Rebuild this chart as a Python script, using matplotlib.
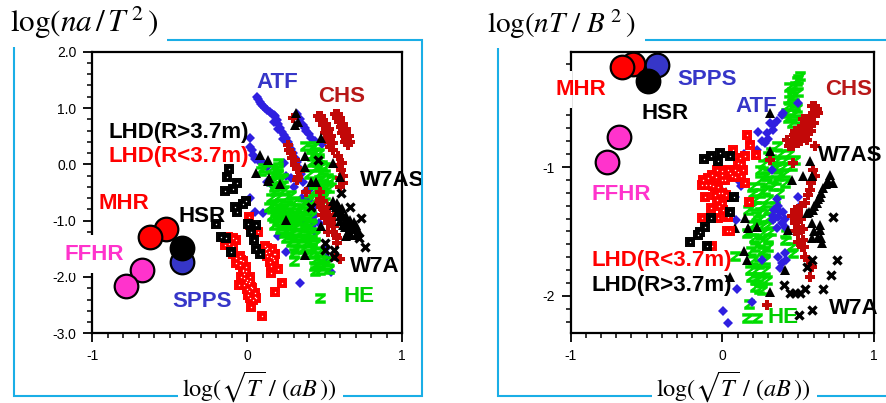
import matplotlib
matplotlib.use("Agg")
import matplotlib.pyplot as plt
from matplotlib.lines import Line2D
from matplotlib.patches import Rectangle
from matplotlib.path import Path
from matplotlib.ticker import MultipleLocator, FormatStrFormatter

plt.rcParams['font.family'] = ['Liberation Sans', 'DejaVu Sans']
plt.rcParams['mathtext.fontset'] = 'stix'

# ---------- left panel: log(na/T^2) ----------
L_ATF = [(.06,1.20),(.08,1.11),(.10,1.03),(.13,.96),(.16,.9),(.18,.85),(.2,.72),(.21,.64),(.24,.52),(.26,.4),(.28,.28),(.31,.12),(.33,-.04),(.36,-.31),(.40,-.63),(.42,-.99),
         (.32,.9),(.36,.7),(.38,.6),(.41,.46),(.48,.37),(.015,.46),(.015,.31),(.04,.17),(.07,.08),(.13,-.04),(.13,-.31),(.015,-.6),(.05,-.84),(.10,-.86),(.2,-1.28),(.25,-1.55),
         (.34,-2.1),(.54,-1.92),(.51,-1.64),(.3,-.4),(.35,-.6),(.41,-.85),(.42,-1.1),(.25,-.2),(.24,.02),(.28,-.25),(.44,-1.2),(.5,-1.5),(.36,-1.0),(.4,-.45),
         (.07,1.16),(.09,1.07),(.115,1.0),(.145,.93),(.17,.88),(.19,.78),(.225,.58),(.25,.46),(.27,.34),(.295,.2),(.32,.04),(.345,-.17),(.38,-.47),(.34,.8),(.37,.65),(.395,.53),(.44,.42),
         (.17,.75),(.2,.62),(.23,.45),(.03,.25),(.05,.1),(.1,.02),(.15,-.35),(.44,-.9),(.46,-1.05),(.43,-.75)]
L_CHS = [(.456,.85),(.47,.78),(.49,.7),(.505,.62),(.52,.55),(.525,.47),(.53,.4),(.55,.25),(.565,.9),(.58,.82),(.59,.75),(.605,.67),(.62,.6),(.63,.52),(.64,.45),(.65,.35),
         (.295,.82),(.262,.34),(.28,.2),(.305,.08),(.32,-.08),(.33,-.22),(.585,.14),(.605,-.1),(.617,-.34),(.59,-.02),(.6,-.25),(.38,-.5),(.46,-.68),(.49,-.8),(.5,-.95),(.52,-1.05),(.55,-1.2),
         (.58,-1.3),(.58,-1.4),(.6,-1.68),(.57,-1.62),(.478,-.75),(.51,-.85),(.54,-1.0),(.56,-1.1),(.47,-.62),
         (.475,.85),(.49,.78),(.51,.72),(.53,.62),(.54,.5),(.55,.38),(.5,.55),(.51,.45),(.535,.3),(.585,.9),(.6,.82),(.615,.72),(.635,.62),(.655,.5),(.66,.4),(.61,.55),(.63,.4),
         (.27,.25),(.29,.12),(.31,-.02),(.34,-.12),(.32,-.28),(.61,.02),(.62,-.2),(.6,-.4),(.49,-.65),(.52,-.75),(.53,-.9),(.48,-.9),(.56,-.9),(.57,-1.25),(.52,-1.2),(.47,-.5)]
L_HE = [(.37,.33),(.43,.33),(.46,.2),(.42,.15),(.45,.05),(.5,-.05),(.47,-.15),(.52,-.25),(.49,-.35),(.54,-.28),(.5,-.55),(.45,-.6),(.49,-.6),(.4,-.63),(.44,-.35),
        (.1,-.07),(.09,-.12),(.2,.02),(.15,-.08),(.20,-.05),(.19,-.15),(.16,-.3),(.2,-.3),(.23,-.25),(.18,-.48),(.24,-.45),(.28,-.55),(.17,-.7),(.21,-.68),(.26,-.72),(.31,-.65),(.35,-.7),
        (.18,-.85),(.22,-.85),(.27,-.85),(.32,-.85),(.37,-.82),(.19,-1.0),(.24,-1.0),(.29,-1.0),(.33,-1.0),(.38,-1.0),(.21,-1.15),(.26,-1.15),(.31,-1.12),(.36,-1.12),(.4,-1.2),
        (.25,-1.3),(.3,-1.3),(.35,-1.3),(.42,-1.35),(.31,-1.5),(.36,-1.5),(.42,-1.5),(.46,-1.55),(.3,-1.72),(.44,-1.7),(.48,-1.7),(.52,-1.72),(.44,-1.9),(.47,-1.88),(.53,-1.85),(.47,-2.38),
        (.15,-.2),(.2,-.18),(.17,-.4),(.22,-.38),(.2,-.58),(.25,-.6),(.15,-.6),(.14,-.75),(.19,-.78),(.24,-.78),(.29,-.78),(.34,-.78),(.39,-.75),(.16,-.92),(.21,-.92),(.26,-.92),(.31,-.92),(.36,-.92),(.41,-.92),
        (.17,-1.07),(.22,-1.08),(.27,-1.08),(.32,-1.07),(.37,-1.05),(.42,-1.08),(.24,-1.22),(.29,-1.22),(.34,-1.22),(.39,-1.25),(.44,-1.25),(.28,-1.38),(.33,-1.4),(.38,-1.4),(.44,-1.42),(.3,-1.58),(.37,-1.6),(.41,-1.6),(.47,-1.62),
        (.43,-1.8),(.48,-1.8),(.5,-1.78),(.4,-.18),(.44,.22),(.41,.28),(.46,.12),(.48,-.02),(.45,-.05),(.42,.05),(.49,-.22),(.46,-.28),(.51,-.4),(.47,-.45),(.53,-.42),(.43,-.48)]
L_W7AS = [(.55,-.65),(.57,-.75),(.6,-.85),(.62,-.9),(.63,-1.0),(.66,-1.05),(.68,-1.1),(.7,-1.15),(.72,-1.2),(.65,-1.2),(.6,-1.0),(.58,-.85),(.67,-1.25),(.59,-.75),(.62,-1.08),(.7,-1.08),
          (.56,-.72),(.58,-.68),(.61,-.78),(.64,-.92),(.66,-.98),(.69,-1.02),(.6,-.92),(.63,-1.12),(.66,-1.15),(.7,-1.25),
          (.316,.905),(.305,.7),(.33,.75),(.08,.17),(.058,-.16),(.133,.077),(.133,-.3),(.37,.14),(.37,-.04),(.413,-.31),(.445,-.31),(.596,-.22),(.553,.02),(.477,.46),(.25,-.99),(.477,-1.1),(.639,-1.28),(.37,-1.61),(.21,-.35),(.14,-.25)]
L_W7A = [(.602,-.503),(.66,-.751),(.413,-.751),(.735,-.959),(.718,-1.314),(.757,-1.462),(.499,-1.402),(.503,-1.521),(.559,-1.521),(.559,-1.639),(.456,.077)]
L_GT = [(-.116,-.083),(-.129,-.219),(-.065,-.337),(-.09,-.444),(-.142,-.473),(-.011,-.651),(-.028,-.704),(-.082,-.751),(-.065,-.84),(-.2,-1.065),(.004,-1.059),(.058,-1.077),(.026,-1.195),(.041,-1.343),(-.168,-1.296),(-.135,-1.314),(-.103,-1.55),(.058,-1.509),(.08,-1.592)]
L_LT = [(-.125,-1.284),(-.071,-1.343),(-.146,-1.432),(-.103,-1.491),(-.071,-1.669),(-.039,-1.698),(-.006,-1.817),(-.056,-2.142),(.015,-1.994),(.026,-2.172),(.047,-2.29),(.004,-2.32),(.058,-2.367),(.026,-2.538),(.095,-2.686),(-.028,-1.876),(.009,-2.112),(-.006,-2.083),(-.049,-1.787),
        (.011,-.941),(.015,-1.077),(.069,-1.195),(.112,-1.45),(.123,-1.58),(.176,-1.592),(.144,-1.728),(.198,-1.864),(.155,-1.935),(.224,-2.101),(.181,-2.26),(.165,-1.66),(.13,-1.48),(-.02,-1.95),(-.04,-2.0),(-.09,-1.6),
        (-.09,-1.3),(-.12,-1.42),(-.09,-1.45),(-.05,-1.7),(-.03,-1.72),(-.03,-1.9),(-.01,-1.9),(.0,-2.05),(-.02,-2.02),(.02,-2.08),(.03,-2.2),(.01,-2.25),(.04,-2.4),(.02,-2.38),(.05,-2.35),(-.02,-2.15),(.0,-2.22),(-.05,-1.62),(-.07,-1.75),
        (.14,-1.55),(.16,-1.5),(.12,-1.5),(.15,-1.65),(.17,-1.7),(.13,-1.62),(.15,-1.8),(.17,-1.6)]
L_MHR = [(-.523,-1.154),(-.63,-1.296)]
L_SPPS = [(-.419,-1.728)]
L_HSR = [(-.419,-1.49)]
L_FFHR = [(-.682,-1.876),(-.785,-2.16)]

# ---------- right panel: log(nT/B^2) ----------
R_ATF = [(.401,-.579),(.335,-.67),(.291,-.735),(.232,-.73),(.28,-.813),(.225,-.865),(.335,-.709),(.313,-.657),(.181,-.813),(.104,-1.099),(.083,-1.229),(.087,-1.41),(.093,-1.943),(.005,-2.117),(.038,-2.21),
         (.368,-1.384),(.368,-1.306),(.39,-1.436),(.335,-1.41),(.412,-1.462),(.412,-1.67),(.39,-1.748),(.368,-1.696),(.258,-1.722),(.51,-1.306),(.5,-1.229),(.324,-1.02),(.192,-2.047),(.5,-.5),(.39,-.6),(.13,-1.0),(.14,-.9),(.36,-1.25),(.4,-1.35),(.34,-1.33),
         (.3,-.78),(.36,-.64),(.26,-.8),(.33,-1.38),(.38,-1.35),(.41,-1.4),(.36,-1.47),(.42,-1.72),(.38,-1.78),(.12,-1.15)]
R_CHS = [(.609,-.527),(.576,-.605),(.521,-.683),(.565,-.735),(.456,-.787),(.5,-.813),(.609,-.839),(.423,-.787),(.62,-.55),(.631,-.579),(.59,-.53),(.543,-.683),(.5,-.735),(.467,-.839),(.554,-.787),(.532,-.631),(.6,-.6),(.48,-.72),
         (.598,-1.021),(.609,-1.073),(.576,-1.177),(.543,-1.28),(.5,-1.358),(.478,-1.436),(.5,-1.514),(.521,-1.618),(.543,-1.696),(.587,-1.774),(.576,-1.852),(.291,-2.073),(.5,-1.462),(.478,-1.332),(.532,-1.566),(.313,-.943),(.467,-.969),
         (.6,-.66),(.57,-.68),(.53,-.75),(.47,-.75),(.44,-.84),(.52,-.8),(.58,-.72),(.56,-1.22),(.52,-1.3),(.46,-1.38),(.52,-1.4),(.48,-1.5),(.53,-1.48),(.5,-1.58),(.54,-1.62),(.56,-1.72),(.58,-1.12),(.49,-1.42)]
R_HE = [(.51,-.294),(.478,-.371),(.456,-.449),(.434,-.527),(.478,-.579),(.456,-.657),(.357,-.839),(.302,-.917),(.412,-.943),(.478,-.943),(.456,-.995),(.368,-.995),(.28,-1.073),(.368,-1.073),(.412,-1.047),(.192,-1.151),(.28,-1.177),(.17,-1.33),(.258,-1.306),(.346,-1.306),(.236,-1.41),(.313,-1.384),(.159,-1.514),(.258,-1.514),(.412,-1.566),(.467,-1.67),(.214,-1.618),(.302,-1.618),(.28,-1.722),(.083,-1.691),(.181,-1.8),(.236,-1.852),(.291,-1.878),(.214,-1.93),(.258,-1.956),(.175,-2.06),(.159,-2.169),(.225,-2.169),
        (.25,-1.2),(.3,-1.25),(.22,-1.25),(.25,-1.35),(.3,-1.45),(.3,-1.55),(.2,-1.45),(.21,-1.55),(.26,-1.65),(.24,-1.75),(.28,-1.8),(.22,-1.8),(.2,-1.72),(.33,-1.15),(.37,-1.2),(.3,-1.05),(.25,-1.1),(.33,-1.0),(.4,-1.0),(.44,-.9),(.38,-.9),(.32,-.88),(.27,-.98),(.49,-.33),(.44,-.38),(.47,-.5),(.43,-.62),(.49,-.63),
        (.5,-.32),(.46,-.42),(.5,-.42),(.44,-.48),(.49,-.54),(.42,-.58),(.2,-1.2),(.25,-1.02),(.2,-1.3),(.29,-1.12),(.35,-1.1),(.3,-1.33),(.22,-1.38),(.27,-1.45),(.19,-1.5),(.25,-1.58),(.32,-1.5),(.28,-1.65),(.19,-1.65),(.26,-1.88),(.22,-1.88),(.19,-1.85),(.24,-1.95),(.42,-1.52),(.45,-1.62),(.41,-1.12),(.35,-.95)]
R_W7AS = [(.708,-1.06),(.697,-1.11),(.664,-1.164),(.642,-1.229),(.62,-1.28),(.598,-1.332),(.554,-1.358),(.642,-1.488),(.631,-1.54),(.587,-1.553),(.653,-1.592),(.73,-1.125),(.576,-.956),(.313,-.584),(.313,-.878),(.532,-1.073),(.587,-1.073),(.148,-1.397),(.083,-1.475),(.17,-1.475),(.225,-1.462),(.143,-1.649),(.159,-1.722),(.412,-1.795),(.05,-1.857),(.313,-1.969),(.434,-1.488),(.456,-1.099),(.587,-1.436),(-.07,-1.11),(-.005,-1.177),(.05,-1.229),
          (.68,-1.13),(.65,-1.2),(.63,-1.25),(.6,-1.3),(.57,-1.35),(.64,-1.45),(.6,-1.5),(.65,-1.55),(-.04,-1.14),(-.03,-1.17),(.02,-1.19)]
R_W7A = [(.73,-1.384),(.752,-1.722),(.713,-1.834),(.664,-1.943),(.587,-1.722),(.554,-1.774),(.543,-1.943),(.407,-1.912),(.445,-1.974),(.478,-1.974),(.51,-1.974),(.587,-2.112),(.505,-2.145)]
R_LT = [(.159,-.753),(.181,-.826),(.219,-.904),(.071,-.865),(.148,-.917),(.115,-.93),(-.038,-1.021),(-.093,-1.086),(-.137,-1.138),(-.115,-1.229),(-.071,-1.06),(-.005,-1.034),(.038,-1.021),(.083,-1.021),(.137,-1.021),(.148,-1.125),(.016,-1.099),(-.027,-1.151),(-.038,-1.255),(-.005,-1.28),(-.077,-1.319),(-.132,-1.392),(-.027,-1.397),(.027,-1.494),(.05,-1.494),(-.07,-1.613),(.177,-1.273),(.038,-1.384),(.005,-1.332),(.104,-.969),(.06,-1.073),(-.06,-1.15),(.0,-1.2),
        (-.04,-1.08),(.0,-1.1),(.05,-1.05),(.1,-1.04),(.12,-.98),(-.02,-1.2),(.02,-1.22),(-.05,-1.22),(-.02,-1.3),(-.13,-1.1),(-.11,-1.14),(.08,-1.08),(.12,-1.07),(.0,-1.06),(-.08,-1.14)]
R_GT = [(-.12,-.938),(-.078,-.917),(-.016,-.891),(-.027,-.956),(.049,-.917),(.077,-1.229),(.049,-1.345),(-.078,-1.397),(-.115,-1.462),(-.148,-1.501),(-.214,-1.579),(-.104,-1.61),(-.159,-1.527)]
R_MHR = [(-.589,-.203),(-.664,-.221)]
R_SPPS = [(-.433,-.208)]
R_HSR = [(-.488,-.332)]
R_FFHR = [(-.679,-.766),(-.758,-.961)]

C_BLUE, C_DRED, C_GREEN, C_RED = '#2f1fe0', '#c20808', '#00dd00', '#ff0000'
C_LBLUE, C_MAG, C_LGREEN = '#3636c8', '#ff33cc', '#00cf00'
CYAN = '#1aaee6'

W, H = 887, 403
fig = plt.figure(figsize=(W/100, H/100), dpi=100)
fig.patch.set_facecolor('white')

# solid "z" glyph used for the HE points
Z_MARK = Path([(-1, 1), (1, 1), (1, .45), (-.1, -.35), (1, -.35), (1, -1), (-1, -1), (-1, -.45), (.1, .35), (-1, .35), (-1, 1)], closed=True)

def xy(points):
    return [p[0] for p in points], [p[1] for p in points]

def scatter(ax, pts, marker, color, ms, mew=0, z=3):
    x, y = xy(pts)
    ax.plot(x, y, ls='none', marker=marker, color=color, ms=ms, mew=mew, mfc=color, mec=color, zorder=z)

def squares(ax, pts, color, z):
    x, y = xy(pts)
    ax.plot(x, y, ls='none', marker='s', ms=6.4, mew=1.4, mfc='none', mec=color, zorder=z)
    ax.plot(x, y, ls='none', marker='s', ms=4.0, mew=0, color=color, zorder=z)
    ax.plot(x, y, ls='none', marker='s', ms=0.9, mew=0, color='white', zorder=z)

def circles(ax, pts, color, z, ms=17):
    x, y = xy(pts)
    for i in range(len(x)):
        ax.plot(x[i], y[i], ls='none', marker='o', ms=ms, mew=1.6, mfc=color, mec='black',
                zorder=z + i * 0.01)

def frame_axes(px_l, px_r, px_t, px_b, ylim, yfmt, yminor):
    ax = fig.add_axes([px_l/W, 1-px_b/H, (px_r-px_l)/W, (px_b-px_t)/H])
    ax.set_xlim(-1, 1)
    ax.set_ylim(*ylim)
    ax.xaxis.set_major_locator(MultipleLocator(1))
    ax.xaxis.set_minor_locator(MultipleLocator(0.1))
    ax.yaxis.set_major_locator(MultipleLocator(1))
    ax.yaxis.set_minor_locator(MultipleLocator(yminor))
    ax.xaxis.set_major_formatter(FormatStrFormatter('%d'))
    ax.yaxis.set_major_formatter(FormatStrFormatter(yfmt))
    ax.tick_params(axis='both', which='major', direction='out', length=6.8, width=1.3, labelsize=10, pad=4.5)
    ax.tick_params(axis='both', which='minor', direction='out', length=3.6, width=1.1)
    for side in ax.spines.values():
        side.set_linewidth(1.6)
    return ax

def label(ax, x, y, s, color):
    ax.text(x - 0.012, y, s, color=color, fontsize=16, fontweight='bold', va='center', ha='left', zorder=12, clip_on=False)

def series(ax, atf, chs, he, w7as, w7a, lt, gt, mhr, spps, hsr, ffhr, atf_z):
    scatter(ax, atf, 'D', C_BLUE, 5.4, z=atf_z)
    scatter(ax, he, Z_MARK, C_GREEN, 7.6, z=4)
    scatter(ax, chs, 'P', C_DRED, 7.6, z=5)
    scatter(ax, w7as, '^', 'black', 6.6, z=6)
    scatter(ax, w7a, 'x', 'black', 6, mew=2.4, z=7)
    squares(ax, lt, C_RED, 7)
    squares(ax, gt, 'black', 8)
    circles(ax, mhr, C_RED, 9)
    circles(ax, spps, C_LBLUE, 9.2)
    circles(ax, hsr, 'black', 9.4)
    circles(ax, ffhr, C_MAG, 9.6)

# ----- left -----
a = frame_axes(92.3, 402.3, 51.7, 333.3, (-3, 2), '%.1f', 0.2)
series(a, L_ATF, L_CHS, L_HE, L_W7AS, L_W7A, L_LT, L_GT, L_MHR, L_SPPS, L_HSR, L_FFHR, 3)
a.add_patch(Rectangle((-1.16, -1.93), 0.17, 0.67, facecolor='white', edgecolor='none', zorder=11, clip_on=False))
label(a, .07, 1.456, 'ATF', C_LBLUE)
label(a, .467, 1.21, 'CHS', '#b81818')
label(a, -.884, .56, 'LHD(R>3.7m)', 'black')
label(a, -.884, .136, 'LHD(R<3.7m)', C_RED)
label(a, .742, -.284, 'W7AS', 'black')
label(a, -.948, -.704, 'MHR', C_RED)
label(a, -.432, -.93, 'HSR', 'black')
label(a, -1.168, -1.6, 'FFHR', C_MAG)
label(a, .675, -1.817, 'W7A', 'black')
label(a, .634, -2.34, 'HE', C_LGREEN)
label(a, -.473, -2.44, 'SPPS', C_LBLUE)

# ----- right -----
b = frame_axes(570.7, 874.3, 51.7, 333.3, (-2.29, -0.105), '%d', 0.1)
series(b, R_ATF, R_CHS, R_HE, R_W7AS, R_W7A, R_LT, R_GT, R_MHR, R_SPPS, R_HSR, R_FFHR, 4.5)
b.add_patch(Rectangle((-1.12, -.545), 0.13, 0.29, facecolor='white', edgecolor='none', zorder=11, clip_on=False))
label(b, .686, -.40, 'CHS', '#b81818')
label(b, -1.087, -.40, 'MHR', C_RED)
label(b, -.287, -.32, 'SPPS', C_LBLUE)
label(b, .098, -.527, 'ATF', C_LBLUE)
label(b, -.521, -.587, 'HSR', 'black')
label(b, .638, -.912, 'W7AS', 'black')
label(b, -.851, -1.21, 'FFHR', C_MAG)
label(b, -.851, -1.725, 'LHD(R<3.7m)', C_RED)
label(b, -.851, -1.917, 'LHD(R>3.7m)', 'black')
label(b, .715, -2.10, 'W7A', 'black')
label(b, .307, -2.17, 'HE', C_LGREEN)

# ----- cyan frames -----
def poly(px, py):
    fig.add_artist(Line2D([p/W for p in px], [1-q/H for q in py], color=CYAN, lw=1.5,
                          solid_joinstyle='miter', solid_capstyle='butt'))
poly([14, 14, 178], [46.5, 395.7, 395.7])
poly([343, 422.3, 422.3, 167], [395.7, 395.7, 39.5, 39.5])
poly([498, 498, 651.7], [48, 395.7, 395.7])
poly([816.7, 887], [395.7, 395.7])
poly([645, 887], [39.5, 39.5])

# ----- titles -----
def maths(px, py, s, size):
    fig.text(px/W, 1-py/H, s, fontsize=size, color='black', ha='left', va='baseline')
maths(10, 32, r'$\mathrm{log}(na\,/\,T^{\,2}\,)$', 22.5)
maths(487, 33, r'$\mathrm{log}(nT\ /\ B^{\,2}\,)$', 21)
maths(182, 396, r'$\mathrm{log}(\sqrt{T}\ /\ (aB\,))$', 17.5)
maths(656, 396, r'$\mathrm{log}(\sqrt{T}\ /\ (aB\,))$', 17.5)

fig.savefig('out.png', dpi=100)
